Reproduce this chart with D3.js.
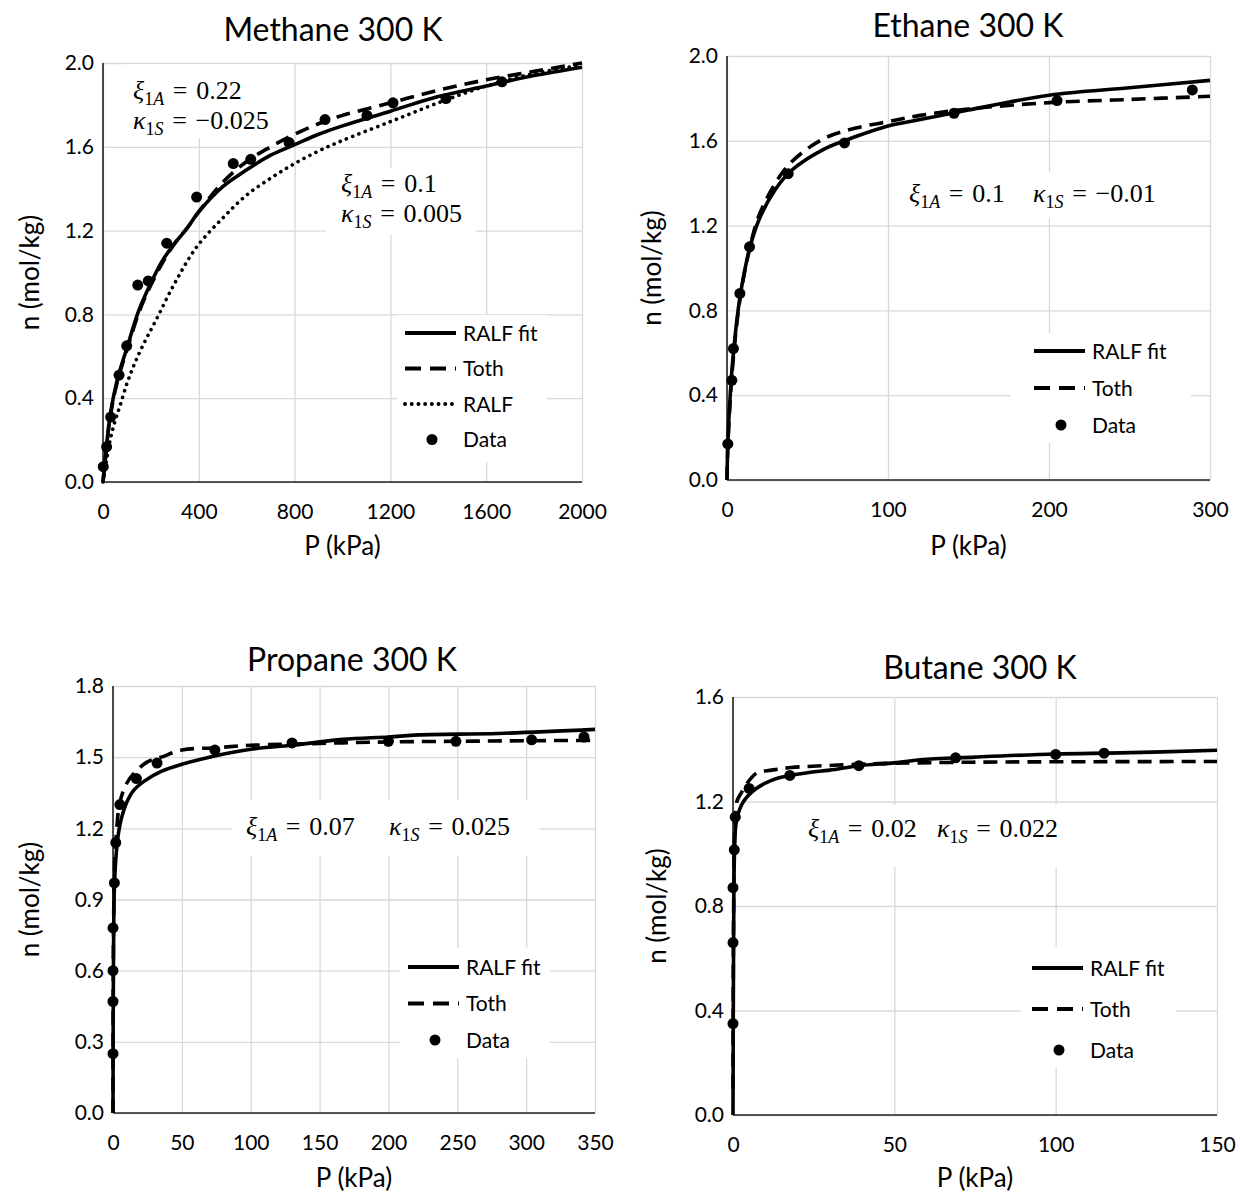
<!DOCTYPE html>
<html>
<head>
<meta charset="utf-8">
<script src="https://cdn.jsdelivr.net/npm/d3@7"></script>
<style>
  body { margin: 0; background: #fff; }
  text { font-family: Lato, "Open Sans", sans-serif; fill: #000; }
  text.math { font-family: "Liberation Serif", "DejaVu Serif", serif; }
</style>
</head>
<body>
<svg id="chart" width="1240" height="1196"></svg>
<script>
// ---- Methane 300 K ----
var methaneXTicks = [0, 400, 800, 1200, 1600, 2000];
var methaneYTicks = [0, 0.4, 0.8, 1.2, 1.6, 2.0];
var methaneData = [[1, 0.073], [15, 0.168], [32, 0.31], [67, 0.51], [99, 0.65], [145, 0.94], [189, 0.96],
  [266, 1.14], [391, 1.36], [544, 1.52], [617, 1.54], [777, 1.62], [927, 1.73], [1102, 1.75],
  [1211, 1.81], [1432, 1.83], [1666, 1.91]];
var methaneRalfFit = [[0, 0], [10, 0.12], [30, 0.32], [60, 0.49], [100, 0.64], [150, 0.82], [200, 0.95],
  [250, 1.06], [300, 1.14], [350, 1.21], [400, 1.29], [500, 1.41], [600, 1.49], [700, 1.56],
  [800, 1.61], [900, 1.66], [1000, 1.70], [1200, 1.77], [1400, 1.84], [1600, 1.89], [1800, 1.94], [2000, 1.98]];
var methaneToth = [[0, 0], [10, 0.11], [30, 0.31], [60, 0.48], [100, 0.63], [150, 0.81], [200, 0.94],
  [250, 1.05], [300, 1.14], [350, 1.21], [400, 1.29], [500, 1.43], [600, 1.53], [700, 1.60],
  [800, 1.66], [900, 1.71], [1000, 1.75], [1200, 1.81], [1400, 1.87], [1600, 1.92], [1800, 1.96], [2000, 2.00]];
var methaneRalf = [[0, 0], [10, 0.07], [30, 0.20], [50, 0.29], [70, 0.36], [100, 0.47], [130, 0.56],
  [170, 0.66], [220, 0.77], [300, 0.95], [390, 1.12], [500, 1.26], [600, 1.37], [700, 1.45],
  [800, 1.52], [900, 1.58], [1000, 1.63], [1200, 1.72], [1400, 1.81], [1600, 1.89], [1800, 1.95], [2000, 1.99]];

// ---- Ethane 300 K ----
var ethaneXTicks = [0, 100, 200, 300];
var ethaneYTicks = [0, 0.4, 0.8, 1.2, 1.6, 2.0];
var ethaneData = [[0.5, 0.17], [3, 0.47], [4, 0.62], [8, 0.88], [14, 1.10], [38, 1.445], [73, 1.59],
  [141, 1.73], [205, 1.79], [289, 1.84]];
var ethaneRalfFit = [[0, 0], [0.5, 0.17], [2, 0.40], [4, 0.60], [8, 0.86], [14, 1.09], [20, 1.23],
  [30, 1.37], [40, 1.46], [60, 1.56], [80, 1.62], [100, 1.67], [120, 1.70], [150, 1.745],
  [200, 1.815], [250, 1.85], [300, 1.885]];
var ethaneToth = [[0, 0], [0.5, 0.15], [2, 0.38], [4, 0.58], [8, 0.85], [14, 1.09], [20, 1.25],
  [30, 1.40], [40, 1.50], [60, 1.61], [80, 1.66], [100, 1.69], [120, 1.72], [150, 1.75],
  [200, 1.78], [250, 1.795], [300, 1.81]];

// ---- Propane 300 K ----
var propaneXTicks = [0, 50, 100, 150, 200, 250, 300, 350];
var propaneYTicks = [0, 0.3, 0.6, 0.9, 1.2, 1.5, 1.8];
var propaneData = [[0, 0.25], [0, 0.47], [0, 0.60], [0, 0.78], [1, 0.97], [2, 1.14], [5, 1.30],
  [17, 1.41], [32, 1.475], [74, 1.53], [130, 1.56], [200, 1.567], [249, 1.567], [304, 1.573], [342, 1.585]];
var propaneRalfFit = [[0, 0], [0.3, 0.6], [1, 0.95], [2.3, 1.09], [4, 1.18], [6, 1.24], [10, 1.31],
  [15, 1.36], [23, 1.40], [35, 1.44], [50, 1.47], [70, 1.50], [100, 1.533], [130, 1.55],
  [167, 1.575], [200, 1.585], [222, 1.594], [280, 1.60], [350, 1.617]];
var propaneToth = [[0, 0], [0.3, 0.7], [1, 1.0], [2.5, 1.18], [5, 1.31], [10, 1.39], [15, 1.43],
  [25, 1.48], [35, 1.50], [50, 1.53], [75, 1.54], [100, 1.55], [150, 1.558], [200, 1.564],
  [270, 1.568], [350, 1.571]];

// ---- Butane 300 K ----
var butaneXTicks = [0, 50, 100, 150];
var butaneYTicks = [0, 0.4, 0.8, 1.2, 1.6];
var butaneData = [[0, 0.35], [0, 0.66], [0, 0.87], [0.4, 1.015], [0.7, 1.14], [5, 1.25], [17.6, 1.30],
  [39, 1.337], [69, 1.367], [100, 1.38], [115, 1.385]];
var butaneRalfFit = [[0, 0], [0.2, 0.7], [0.5, 1.02], [1, 1.12], [2.6, 1.186], [4.5, 1.22], [7, 1.248],
  [10, 1.27], [14, 1.29], [23, 1.31], [30, 1.32], [39, 1.337], [50, 1.348], [58, 1.36],
  [75, 1.37], [100, 1.382], [120, 1.386], [150, 1.396]];
var butaneToth = [[0, 0.1], [0.2, 0.8], [0.6, 1.12], [1.2, 1.2], [2.6, 1.234], [5, 1.28], [7.5, 1.31],
  [12, 1.32], [18, 1.33], [30, 1.338], [45, 1.345], [70, 1.35], [100, 1.352], [150, 1.353]];

var legendFull = ["RALF fit", "Toth", "RALF", "Data"];
var legendShort = ["RALF fit", "Toth", "Data"];

var styles = {
  fit: { dash: null, cap: "butt" },
  toth: { dash: "14,8", cap: "butt" },
  ralf: { dash: "0.1,6.6", cap: "round" }
};

var panels = [
  {
    title: "Methane 300 K", titleX: 333, titleY: 41,
    box: { l: 103, r: 582, t: 63, b: 482 },
    xDomain: [0, 2000], yDomain: [0, 2], xTicks: methaneXTicks, yTicks: methaneYTicks, yFmt: ".1f",
    series: [["fit", methaneRalfFit], ["toth", methaneToth], ["ralf", methaneRalf]],
    data: methaneData,
    legend: { x: 405, y: 333, step: 35.5, items: legendFull, types: ["fit", "toth", "ralf", "data"], bg: [397, 315, 150, 147] },
    notes: [
      { x: 133, y: 99, g: "\u03BE", sub: "1A", v: "0.22" },
      { x: 133, y: 129, g: "\u03BA", sub: "1S", v: "\u22120.025" },
      { x: 341, y: 192, g: "\u03BE", sub: "1A", v: "0.1" },
      { x: 341, y: 222, g: "\u03BA", sub: "1S", v: "0.005" }
    ],
    noteBg: [[125, 64, 168, 74], [326, 168, 150, 67]],
    yTitleX: 30, xTitleY: 555
  },
  {
    title: "Ethane 300 K", titleX: 968, titleY: 37,
    box: { l: 727, r: 1210, t: 56, b: 480 },
    xDomain: [0, 300], yDomain: [0, 2], xTicks: ethaneXTicks, yTicks: ethaneYTicks, yFmt: ".1f",
    series: [["fit", ethaneRalfFit], ["toth", ethaneToth]],
    data: ethaneData,
    legend: { x: 1034, y: 351, step: 37, items: legendShort, types: ["fit", "toth", "data"], bg: [1011, 333, 180, 110] },
    notes: [
      { x: 909, y: 202, g: "\u03BE", sub: "1A", v: "0.1" },
      { x: 1033, y: 202, g: "\u03BA", sub: "1S", v: "\u22120.01" }
    ],
    noteBg: [[900, 172, 272, 46]],
    yTitleX: 652, xTitleY: 555
  },
  {
    title: "Propane 300 K", titleX: 352, titleY: 671,
    box: { l: 113, r: 595, t: 686, b: 1113 },
    xDomain: [0, 350], yDomain: [0, 1.8], xTicks: propaneXTicks, yTicks: propaneYTicks, yFmt: ".1f",
    series: [["fit", propaneRalfFit], ["toth", propaneToth]],
    data: propaneData,
    legend: { x: 408, y: 967, step: 36.5, items: legendShort, types: ["fit", "toth", "data"], bg: [400, 948, 150, 110] },
    notes: [
      { x: 246, y: 835, g: "\u03BE", sub: "1A", v: "0.07" },
      { x: 389, y: 835, g: "\u03BA", sub: "1S", v: "0.025" }
    ],
    noteBg: [[232, 800, 308, 56]],
    yTitleX: 30, xTitleY: 1187
  },
  {
    title: "Butane 300 K", titleX: 980, titleY: 679,
    box: { l: 733, r: 1217, t: 697, b: 1115 },
    xDomain: [0, 150], yDomain: [0, 1.6], xTicks: butaneXTicks, yTicks: butaneYTicks, yFmt: ".1f",
    series: [["fit", butaneRalfFit], ["toth", butaneToth]],
    data: butaneData,
    legend: { x: 1032, y: 968, step: 41, items: legendShort, types: ["fit", "toth", "data"], bg: [1021, 947, 155, 121] },
    notes: [
      { x: 808, y: 837, g: "\u03BE", sub: "1A", v: "0.02" },
      { x: 937, y: 837, g: "\u03BA", sub: "1S", v: "0.022" }
    ],
    noteBg: [[800, 805, 258, 62]],
    yTitleX: 657, xTitleY: 1187
  }
];

var svg = d3.select("#chart");

panels.forEach(function (p) {
  var b = p.box;
  var x = d3.scaleLinear().domain(p.xDomain).range([b.l, b.r]);
  var y = d3.scaleLinear().domain(p.yDomain).range([b.b, b.t]);
  var g = svg.append("g");

  // gridlines
  g.append("g")
    .attr("transform", "translate(0," + b.b + ")")
    .call(d3.axisBottom(x).tickValues(p.xTicks).tickSize(-(b.b - b.t)).tickFormat(""))
    .call(function (s) { s.select(".domain").remove(); s.selectAll("line").attr("stroke", "#d9d9d9").attr("stroke-width", 1.3); });
  g.append("g")
    .attr("transform", "translate(" + b.l + ",0)")
    .call(d3.axisLeft(y).tickValues(p.yTicks).tickSize(-(b.r - b.l)).tickFormat(""))
    .call(function (s) { s.select(".domain").remove(); s.selectAll("line").attr("stroke", "#d9d9d9").attr("stroke-width", 1.3); });

  // white boxes behind legend and notes
  p.noteBg.concat([p.legend.bg]).forEach(function (r) {
    g.append("rect").attr("x", r[0]).attr("y", r[1]).attr("width", r[2]).attr("height", r[3]).attr("fill", "#fff");
  });

  // tick labels
  var xa = g.append("g")
    .attr("transform", "translate(0," + b.b + ")")
    .call(d3.axisBottom(x).tickValues(p.xTicks).tickSize(0).tickPadding(22).tickFormat(d3.format("d")));
  xa.select(".domain").remove();
  xa.selectAll("text").style("font-family", "Lato").style("font-size", "21px").attr("fill", "#000");
  var ya = g.append("g")
    .attr("transform", "translate(" + b.l + ",0)")
    .call(d3.axisLeft(y).tickValues(p.yTicks).tickSize(0).tickPadding(9).tickFormat(d3.format(p.yFmt)));
  ya.select(".domain").remove();
  ya.selectAll("text").style("font-family", "Lato").style("font-size", "21px").attr("fill", "#000");

  // axis lines
  g.append("line").attr("x1", b.l).attr("x2", b.r).attr("y1", b.b).attr("y2", b.b).attr("stroke", "#222").attr("stroke-width", 1.6);
  g.append("line").attr("x1", b.l).attr("x2", b.l).attr("y1", b.t).attr("y2", b.b).attr("stroke", "#222").attr("stroke-width", 1.6);

  // curves
  var line = d3.line().x(function (d) { return x(d[0]); }).y(function (d) { return y(d[1]); })
    .curve(d3.curveCatmullRom.alpha(0.5));
  p.series.forEach(function (s) {
    var st = styles[s[0]];
    g.append("path").attr("d", line(s[1])).attr("fill", "none").attr("stroke", "#000")
      .attr("stroke-width", 3.6).attr("stroke-dasharray", st.dash).attr("stroke-linecap", st.cap)
      .attr("stroke-linejoin", "round");
  });

  // data points
  g.selectAll("circle.pt").data(p.data).join("circle").attr("class", "pt")
    .attr("cx", function (d) { return x(d[0]); }).attr("cy", function (d) { return y(d[1]); })
    .attr("r", 5.5).attr("fill", "#000");

  // title and axis titles
  g.append("text").attr("x", p.titleX).attr("y", p.titleY).attr("text-anchor", "middle")
    .style("font-size", "32px").text(p.title);
  g.append("text").attr("x", (b.l + b.r) / 2).attr("y", p.xTitleY).attr("text-anchor", "middle")
    .style("font-size", "26px").text("P (kPa)");
  g.append("text").attr("transform", "translate(" + p.yTitleX + "," + (b.t + b.b) / 2 + ") rotate(-90)")
    .attr("text-anchor", "middle").attr("dy", "0.35em").style("font-size", "26px").text("n (mol/kg)");

  // legend
  var L = p.legend;
  L.items.forEach(function (name, i) {
    var yy = L.y + i * L.step, t = L.types[i];
    if (t === "data") {
      g.append("circle").attr("cx", L.x + 27).attr("cy", yy).attr("r", 5.5).attr("fill", "#000");
    } else {
      var st = styles[t];
      g.append("line").attr("x1", L.x).attr("x2", L.x + 51).attr("y1", yy).attr("y2", yy)
        .attr("stroke", "#000").attr("stroke-width", 3.8)
        .attr("stroke-dasharray", t === "toth" ? "16,9" : st.dash).attr("stroke-linecap", st.cap);
    }
    g.append("text").attr("x", L.x + 58).attr("y", yy).attr("dy", "0.36em").style("font-size", "21px").text(name);
  });

  // parameter notes
  p.notes.forEach(function (n) {
    var t = g.append("text").attr("class", "math").attr("x", n.x).attr("y", n.y).style("font-size", "26px");
    t.append("tspan").style("font-style", "italic").text(n.g);
    t.append("tspan").attr("dy", 6).style("font-size", "18px").text(n.sub[0]);
    t.append("tspan").style("font-size", "18px").style("font-style", "italic").text(n.sub[1]);
    t.append("tspan").attr("dy", -6).text("\u2004=\u2004" + n.v);
  });
});
</script>
</body>
</html>
